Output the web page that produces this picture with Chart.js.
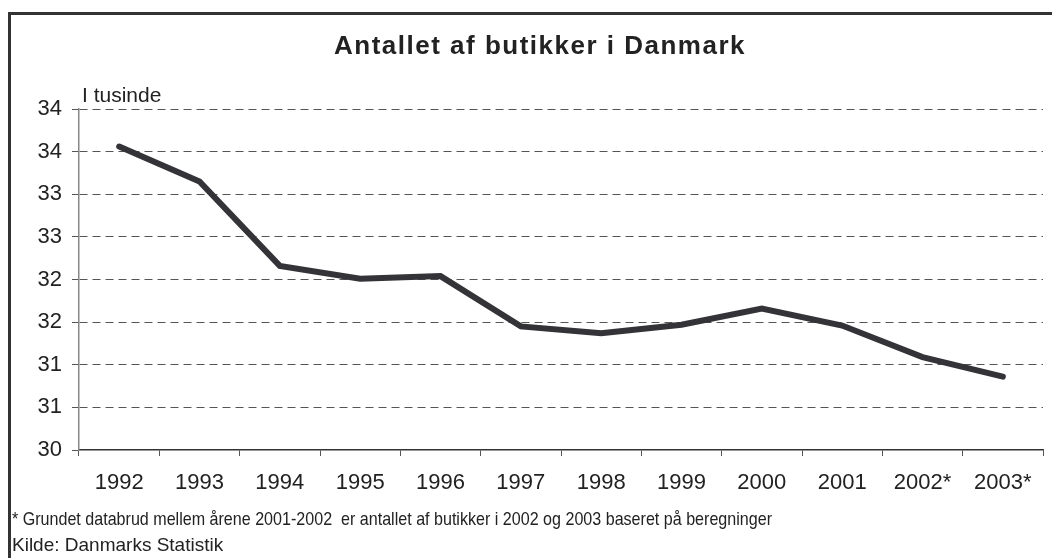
<!DOCTYPE html>
<html>
<head>
<meta charset="utf-8">
<script src="https://cdn.jsdelivr.net/npm/chart.js@4/dist/chart.umd.min.js"></script>
<style>
  html, body { margin: 0; padding: 0; background: #fff; }
  #wrap { width: 1052px; height: 558px; position: relative; }
</style>
</head>
<body>
<div id="wrap"><canvas id="myChart" width="1052" height="558"></canvas></div>
<script>
// data (thousands of shops)
var years = ['1992', '1993', '1994', '1995', '1996', '1997', '1998', '1999', '2000', '2001', '2002*', '2003*'];
var shops = [33.56, 33.15, 32.16, 32.01, 32.04, 31.45, 31.37, 31.47, 31.66, 31.46, 31.09, 30.86];
var yMin = 30;
var yMax = 34;
var yStep = 0.5;

var titleText = 'Antallet af butikker i Danmark';
var unitText = 'I tusinde';
var noteText = '* Grundet databrud mellem årene 2001-2002  er antallet af butikker i 2002 og 2003 baseret på beregninger';
var sourceText = 'Kilde: Danmarks Statistik';

var font = 'Liberation Sans, Arial, Helvetica, sans-serif';

// frame, title and the loose texts around the plot
var decorations = {
    id: 'decorations',
    beforeDraw: function (chart) {
        var ctx = chart.ctx;
        ctx.save();
        ctx.fillStyle = '#fff';
        ctx.fillRect(0, 0, chart.width, chart.height);
        ctx.fillStyle = '#333';
        ctx.fillRect(8, 12, chart.width - 8, 3);
        ctx.fillRect(8, 12, 3, chart.height - 12);
        ctx.restore();
    },
    afterDraw: function (chart) {
        var ctx = chart.ctx;
        ctx.save();
        ctx.fillStyle = '#222';
        ctx.textBaseline = 'middle';

        ctx.font = 'bold 26px ' + font;
        ctx.textAlign = 'left';
        ctx.letterSpacing = '1.5px';
        var w = ctx.measureText(titleText).width;
        ctx.fillText(titleText, 540 - w / 2, 47);
        ctx.letterSpacing = '0px';

        ctx.font = '21px ' + font;
        ctx.fillText(unitText, 82, 96, 86);

        ctx.font = '19px ' + font;
        ctx.fillText(noteText, 12, 520, 760);
        ctx.fillText(sourceText, 12, 546, 228);
        ctx.restore();
    }
};

var ctx = document.getElementById('myChart').getContext('2d');
var myChart = new Chart(ctx, {
    type: 'line',
    data: {
        labels: years,
        datasets: [{
            label: 'Butikker',
            data: shops,
            borderColor: '#333338',
            backgroundColor: '#333338',
            borderWidth: 6,
            borderCapStyle: 'round',
            borderJoinStyle: 'miter',
            pointRadius: 0,
            tension: 0
        }]
    },
    options: {
        responsive: false,
        animation: false,
        layout: {
            padding: { top: 109, left: 0, right: 9, bottom: 0 }
        },
        plugins: {
            legend: { display: false },
            title: { display: false },
            tooltip: { enabled: false }
        },
        scales: {
            x: {
                offset: true,
                border: { color: '#333', width: 1.5 },
                grid: {
                    offset: true,
                    drawOnChartArea: false,
                    drawTicks: true,
                    tickLength: 6,
                    color: '#555'
                },
                ticks: {
                    color: '#222',
                    padding: 14,
                    font: { family: font, size: 22 },
                    maxRotation: 0
                },
                afterFit: function (scale) {
                    scale.height = 108;
                }
            },
            y: {
                min: yMin,
                max: yMax,
                border: { color: '#888', width: 1.5, dash: [8, 5] },
                grid: {
                    // no dashed line on top of the solid x axis
                    color: function (c) {
                        return c.tick && c.tick.value === yMin ? 'rgba(0,0,0,0)' : '#555';
                    },
                    tickColor: '#555',
                    tickBorderDash: [],
                    tickLength: 7,
                    drawTicks: true
                },
                ticks: {
                    stepSize: yStep,
                    color: '#222',
                    padding: 10,
                    font: { family: font, size: 22 },
                    callback: function (value) {
                        return Math.round(value);
                    }
                },
                afterFit: function (scale) {
                    scale.width = 79;
                }
            }
        }
    },
    plugins: [decorations]
});
</script>
</body>
</html>
